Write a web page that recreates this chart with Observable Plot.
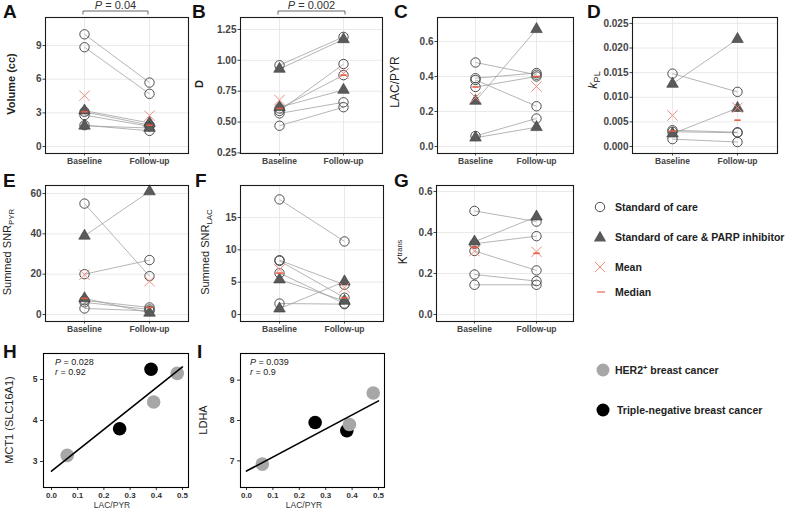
<!DOCTYPE html>
<html><head><meta charset="utf-8">
<script src="https://cdn.jsdelivr.net/npm/d3@7"></script>
<script src="https://cdn.jsdelivr.net/npm/@observablehq/plot@0.6"></script>
<style>
body{margin:0;background:#fff;}
#fig{position:relative;width:790px;height:511px;overflow:hidden;background:#fff;font-family:"Liberation Sans",Arial,Helvetica,sans-serif;}
.panel{position:absolute;}
#overlay{position:absolute;left:0;top:0;z-index:5;pointer-events:none;}
</style></head><body><div id="fig"></div>
<script>
const FONT = '"Liberation Sans", Arial, Helvetica, sans-serif';
const timepoints = ["Baseline", "Follow-up"];

// ---- Paired panels (A–G): baseline, follow-up, treatment group per subject ----
const volumeBaseline = [10.0, 8.85, 3.1, 2.8, 1.9, 3.2, 1.85];
const volumeFollowUp = [5.7, 4.7, 1.9, 1.8, 1.4, 2.1, 1.65];
const volumeGroup    = ["SOC","SOC","SOC","SOC","SOC","PARP","PARP"];
const volumeTicks    = [0, 3, 6, 9];

const dBaseline = [0.96, 0.59, 0.61, 0.57, 0.47, 0.93, 0.62];
const dFollowUp = [1.19, 0.97, 0.88, 0.66, 0.62, 1.17, 0.76];
const dGroup    = ["SOC","SOC","SOC","SOC","SOC","PARP","PARP"];
const dTicks    = [0.25, 0.5, 0.75, 1.0, 1.25];

const lacPyrBaseline = [0.48, 0.39, 0.38, 0.34, 0.06, 0.26, 0.05];
const lacPyrFollowUp = [0.41, 0.42, 0.23, 0.40, 0.16, 0.67, 0.11];
const lacPyrGroup    = ["SOC","SOC","SOC","SOC","SOC","PARP","PARP"];
const lacPyrTicks    = [0, 0.2, 0.4, 0.6];

const kplBaseline = [0.0148, 0.0033, 0.0030, 0.0015, 0.0127, 0.0026];
const kplFollowUp = [0.0111, 0.0029, 0.0028, 0.0009, 0.0218, 0.0078];
const kplGroup    = ["SOC","SOC","SOC","SOC","PARP","PARP"];
const kplTicks    = [0, 0.005, 0.010, 0.015, 0.020, 0.025];

const snrPyrBaseline = [55, 20, 7, 6, 3, 39, 8];
const snrPyrFollowUp = [19, 27, 3.5, 2.5, 1.8, 61, 0.8];
const snrPyrGroup    = ["SOC","SOC","SOC","SOC","SOC","PARP","PARP"];
const snrPyrTicks    = [0, 20, 40, 60];

const snrLacBaseline = [17.8, 8.4, 8.3, 6.4, 1.7, 5.4, 0.9];
const snrLacFollowUp = [11.3, 4.6, 2.6, 1.7, 1.6, 2.1, 5.1];
const snrLacGroup    = ["SOC","SOC","SOC","SOC","SOC","PARP","PARP"];
const snrLacTicks    = [0, 5, 10, 15];

const ktransBaseline = [0.505, 0.345, 0.31, 0.195, 0.145, 0.355];
const ktransFollowUp = [0.453, 0.382, 0.215, 0.163, 0.145, 0.477];
const ktransGroup    = ["SOC","SOC","SOC","SOC","SOC","PARP"];
const ktransTicks    = [0, 0.2, 0.4, 0.6];

// ---- Correlation panels (H, I) ----
const corrLacPyr  = [0.06, 0.39, 0.48, 0.26, 0.38];
const corrSubtype = ["HER2","HER2","HER2","TNBC","TNBC"];
const corrMct1    = [3.15, 4.45, 5.15, 3.8, 5.25];
const corrLdha    = [6.92, 7.9, 8.68, 7.95, 7.75];
const corrXTicks  = [0, 0.1, 0.2, 0.3, 0.4, 0.5];
const mct1Ticks   = [3, 4, 5];
const ldhaTicks   = [7, 8, 9];
const fitRange    = [0, 0.5];

// ---- Text ----
const legendTreatment = ["Standard of care", "Standard of care & PARP inhibitor", "Mean", "Median"];
const legendSubtype   = ["HER2", "Triple-negative breast cancer"];
const pLabels = ["P = 0.04", "P = 0.002"];
const corrStats = [["0.028","0.92"],["0.039","0.9"]];

const COL = {circle:"#4d4d4d", tri:"#5a5a5a", link:"#9c9c9c", mean:"#f08c80", median:"#ec5b3f", grid:"#e6e6e6", her2:"#a7a7a7", tnbc:"#000"};
const dashSymbol = {draw(ctx, size){const r = Math.sqrt(size/Math.PI); ctx.moveTo(-r,0); ctx.lineTo(r,0);}};

const fig = document.getElementById("fig");

function pairedPlot(p){
  const mL=44, mR=4, mT=4, mB=24;
  const fw = p.frame[2]-p.frame[0], fh = p.frame[3]-p.frame[1];
  const rows = p.base.map((b,i)=>({b, f:p.follow[i], g:p.group[i]}));
  const pts = rows.flatMap(r=>[{t:timepoints[0], v:r.b, g:r.g},{t:timepoints[1], v:r.f, g:r.g}]);
  const stats = timepoints.map((t,j)=>{const vals = j ? p.follow : p.base; return {t, mean:d3.mean(vals), median:d3.median(vals)};});
  const plot = Plot.plot({
    width: fw+mL+mR, height: fh+mT+mB, marginLeft:mL, marginRight:mR, marginTop:mT, marginBottom:mB,
    style:{fontFamily:FONT, background:"transparent", overflow:"visible"},
    x:{type:"point", domain:timepoints, padding:0.6},
    y:{domain:p.domain},
    marks:[
      Plot.gridY(p.ticks, {stroke:COL.grid, strokeOpacity:1, strokeWidth:0.9}),
      Plot.gridX(timepoints, {stroke:COL.grid, strokeOpacity:1, strokeWidth:0.9}),
      Plot.axisY({ticks:p.ticks, tickFormat:p.fmt, tickSize:2.5, tickPadding:1.5, fontSize:10, fontWeight:"bold", color:"#444", label:null}),
      Plot.axisX({tickSize:2.5, tickPadding:2, fontSize:8.5, fontWeight:"bold", color:"#444", label:null}),
      Plot.link(rows, {x1:()=>timepoints[0], x2:()=>timepoints[1], y1:"b", y2:"f", stroke:COL.link, strokeWidth:0.75}),
      Plot.dot(pts.filter(d=>d.g==="SOC"), {x:"t", y:"v", r:4.7, stroke:COL.circle, strokeWidth:1, fill:"none"}),
      Plot.dot(pts.filter(d=>d.g==="PARP"), {x:"t", y:"v", symbol:"triangle", r:4.3, fill:COL.tri, stroke:"#3a3a3a", strokeWidth:0.6}),
      Plot.dot(stats, {x:"t", y:"mean", symbol:"times", r:4.8, stroke:COL.mean, strokeWidth:1}),
      Plot.dot(stats, {x:"t", y:"median", symbol:dashSymbol, r:3.2, fill:"none", stroke:COL.median, strokeWidth:1.6}),
      Plot.frame({stroke:"#1a1a1a", strokeWidth:1.1})
    ]
  });
  const div = document.createElement("div"); div.className="panel";
  div.style.left=(p.frame[0]-mL)+"px"; div.style.top=(p.frame[1]-mT)+"px";
  div.append(plot); fig.append(div);
}

function scatterPlot(p){
  const mL=30, mR=4, mT=4, mB=20;
  const fw = p.frame[2]-p.frame[0], fh = p.frame[3]-p.frame[1];
  const pts = corrLacPyr.map((x,i)=>({x, y:p.values[i], s:corrSubtype[i]}));
  const mx = d3.mean(corrLacPyr), my = d3.mean(p.values);
  const slope = d3.sum(pts, d=>(d.x-mx)*(d.y-my)) / d3.sum(pts, d=>(d.x-mx)**2);
  const intercept = my - slope*mx;
  const fit = fitRange.map(x=>({x, y:intercept+slope*x}));
  const plot = Plot.plot({
    width: fw+mL+mR, height: fh+mT+mB, marginLeft:mL, marginRight:mR, marginTop:mT, marginBottom:mB,
    style:{fontFamily:FONT, background:"transparent", overflow:"visible"},
    x:{domain:p.xdomain}, y:{domain:p.ydomain},
    marks:[
      Plot.axisX({ticks:corrXTicks, tickFormat:d3.format(".1f"), tickSize:3, tickPadding:2, fontSize:8, fontWeight:"bold", color:"#333", label:null}),
      Plot.axisY({ticks:p.ticks, tickFormat:d3.format("d"), tickSize:3, tickPadding:3, fontSize:8.5, fontWeight:"bold", color:"#333", label:null}),
      Plot.dot(pts.filter(d=>d.s==="TNBC"), {x:"x", y:"y", r:6.8, fill:COL.tnbc}),
      Plot.dot(pts.filter(d=>d.s==="HER2"), {x:"x", y:"y", r:6.8, fill:COL.her2}),
      Plot.line(fit, {x:"x", y:"y", stroke:"#000", strokeWidth:1.6}),
      Plot.frame({stroke:"#000", strokeWidth:1.1})
    ]
  });
  const div = document.createElement("div"); div.className="panel";
  div.style.left=(p.frame[0]-mL)+"px"; div.style.top=(p.frame[1]-mT)+"px";
  div.append(plot); fig.append(div);
}

const f1 = d3.format("d"), f2 = d3.format(".2f"), f1d = d3.format(".1f"), f3 = d3.format(".3f");
[
  {base:volumeBaseline, follow:volumeFollowUp, group:volumeGroup, ticks:volumeTicks, fmt:f1, domain:[-0.62, 11.5], frame:[45,17,188,153]},
  {base:dBaseline, follow:dFollowUp, group:dGroup, ticks:dTicks, fmt:f2, domain:[0.245, 1.347], frame:[240,17,382,153]},
  {base:lacPyrBaseline, follow:lacPyrFollowUp, group:lacPyrGroup, ticks:lacPyrTicks, fmt:f1d, domain:[-0.04, 0.737], frame:[437,17,573,153]},
  {base:kplBaseline, follow:kplFollowUp, group:kplGroup, ticks:kplTicks, fmt:f3, domain:[-0.00142, 0.0262], frame:[632,17,777,153]},
  {base:snrPyrBaseline, follow:snrPyrFollowUp, group:snrPyrGroup, ticks:snrPyrTicks, fmt:f1, domain:[-3.47, 63.97], frame:[45,185,188,321]},
  {base:snrLacBaseline, follow:snrLacFollowUp, group:snrLacGroup, ticks:snrLacTicks, fmt:f1, domain:[-1.08, 19.95], frame:[240,185,383,321]},
  {base:ktransBaseline, follow:ktransFollowUp, group:ktransGroup, ticks:ktransTicks, fmt:f1d, domain:[-0.034, 0.629], frame:[436,185,573,321]}
].forEach(pairedPlot);

scatterPlot({values:corrMct1, ticks:mct1Ticks, xdomain:[-0.0305, 0.523], ydomain:[2.366, 5.634], frame:[43,353,188,487]});
scatterPlot({values:corrLdha, ticks:ldhaTicks, xdomain:[-0.0227, 0.5227], ydomain:[6.34, 9.66], frame:[240,353,384,487]});

// ---- Overlay: panel letters, axis titles, brackets, legends ----
const svg = d3.select(fig).append("svg").attr("id","overlay").attr("width",790).attr("height",511)
  .style("font-family", FONT);

const letters = [["A",3,18],["B",192,18],["C",394,18],["D",587,18],["E",3,187],["F",195,187],["G",394,187],["H",3,358],["I",197,358]];
svg.selectAll("text.letter").data(letters).join("text").attr("class","letter")
  .attr("x",d=>d[1]).attr("y",d=>d[2]).attr("font-size",19).attr("font-weight","bold").attr("fill","#111").text(d=>d[0]);

function ytitle(x, y, parts, opts={}){
  const t = svg.append("text").attr("transform",`translate(${x},${y}) rotate(-90)`).attr("text-anchor","middle")
    .attr("font-size", opts.size||11).attr("fill","#222").attr("font-weight", opts.bold?"bold":null);
  for (const p of parts){
    const s = t.append("tspan").text(p.t);
    if (p.sub) s.attr("font-size", (opts.size||11)*0.72).attr("dy", 3);
    if (p.sup) s.attr("font-size", (opts.size||11)*0.62).attr("dy", -5);
    if (p.it) s.attr("font-style","italic");
  }
}
ytitle(15, 84, [{t:"Volume (cc)"}], {bold:true, size:11});
ytitle(203, 84, [{t:"D"}], {bold:true, size:11});
ytitle(399, 82, [{t:"LAC/PYR"}], {size:12});
ytitle(597, 80, [{t:"k", it:true},{t:"PL", sub:true}], {size:12.5});
ytitle(11, 252, [{t:"Summed SNR"},{t:"PYR", sub:true}], {size:11});
ytitle(209, 252, [{t:"Summed SNR"},{t:"LAC", sub:true}], {size:11});
ytitle(407, 252, [{t:"K"},{t:"trans", sup:true}], {size:12});
ytitle(13, 420, [{t:"MCT1 (SLC16A1)"}], {size:11});
ytitle(207, 420, [{t:"LDHA"}], {size:11});

// x titles for correlation panels
[[112,"LAC/PYR"],[304,"LAC/PYR"]].forEach(([x,t])=>svg.append("text").attr("x",x).attr("y",508).attr("text-anchor","middle").attr("font-size",8.5).attr("fill","#333").text(t));

// brackets with P values
[[83,148,pLabels[0]],[278,345,pLabels[1]]].forEach(([x1,x2,lab])=>{
  svg.append("path").attr("d",`M${x1},14.5V11H${x2}V14.5`).attr("fill","none").attr("stroke","#555").attr("stroke-width",0.9);
  const t = svg.append("text").attr("x",(x1+x2)/2).attr("y",8.5).attr("text-anchor","middle").attr("font-size",11).attr("fill","#333");
  t.append("tspan").attr("font-style","italic").text(lab.slice(0,1));
  t.append("tspan").text(lab.slice(1));
});

// correlation stats
[[55,corrStats[0]],[250,corrStats[1]]].forEach(([x,[pv,rv]])=>{
  const t1 = svg.append("text").attr("x",x).attr("y",365).attr("font-size",9).attr("fill","#222");
  t1.append("tspan").attr("font-style","italic").text("P");
  t1.append("tspan").text(" =  " + pv);
  const t2 = svg.append("text").attr("x",x).attr("y",374.5).attr("font-size",9).attr("fill","#222");
  t2.append("tspan").attr("font-style","italic").text("r");
  t2.append("tspan").text(" =  " + rv);
});

// treatment legend
const legY = [207, 237, 267, 292];
svg.append("circle").attr("cx",600).attr("cy",legY[0]).attr("r",4.7).attr("fill","none").attr("stroke",COL.circle).attr("stroke-width",1);
svg.append("path").attr("transform",`translate(600,${legY[1]+1})`).attr("d",d3.symbol(d3.symbolTriangle, Math.PI*4.6*4.6)()).attr("fill",COL.tri);
svg.append("path").attr("transform",`translate(600,${legY[2]})`).attr("d",d3.symbol(d3.symbolTimes, Math.PI*4.8*4.8)()).attr("fill","none").attr("stroke",COL.mean).attr("stroke-width",1);
svg.append("path").attr("d",`M597,${legY[3]}H605`).attr("stroke",COL.mean).attr("stroke-width",1.6);
legendTreatment.forEach((t,i)=>svg.append("text").attr("x",615).attr("y",legY[i]+4).attr("font-size",10.5).attr("font-weight","bold").attr("fill","#222").text(t));

// subtype legend
const leg2Y = [370, 410];
svg.append("circle").attr("cx",603).attr("cy",leg2Y[0]).attr("r",6.5).attr("fill",COL.her2);
svg.append("circle").attr("cx",603).attr("cy",leg2Y[1]).attr("r",6.5).attr("fill",COL.tnbc);
const h2 = svg.append("text").attr("x",615).attr("y",leg2Y[0]+4).attr("font-size",10.5).attr("font-weight","bold").attr("fill","#222");
h2.append("tspan").text(legendSubtype[0]);
h2.append("tspan").attr("font-size",7.5).attr("dy",-4).text("+");
h2.append("tspan").attr("dy",4).text(" breast cancer");
svg.append("text").attr("x",617).attr("y",leg2Y[1]+4).attr("font-size",10.5).attr("font-weight","bold").attr("fill","#222").text(legendSubtype[1]);
</script></body></html>
